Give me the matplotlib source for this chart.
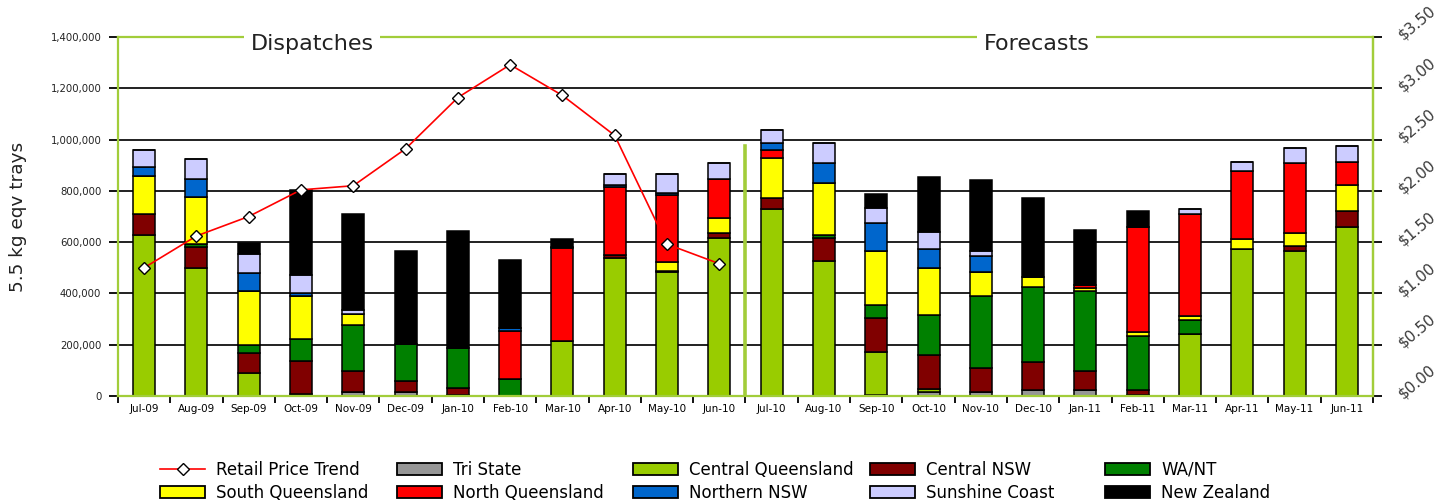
import numpy as np
import matplotlib
matplotlib.use("Agg")
import matplotlib.pyplot as plt
from matplotlib.patches import Patch
from matplotlib.lines import Line2D
from matplotlib.ticker import FuncFormatter

months = ["Jul-09", "Aug-09", "Sep-09", "Oct-09", "Nov-09", "Dec-09",
          "Jan-10", "Feb-10", "Mar-10", "Apr-10", "May-10", "Jun-10",
          "Jul-10", "Aug-10", "Sep-10", "Oct-10", "Nov-10", "Dec-10",
          "Jan-11", "Feb-11", "Mar-11", "Apr-11", "May-11", "Jun-11"]

# thousand trays per region, stacked bottom to top
tri_state = [0, 0, 0, 8, 15, 15, 5, 0, 0, 0, 0, 0,
             0, 0, 3, 14, 17, 23, 23, 3, 0, 0, 0, 0]
central_qld = [628, 498, 91, 0, 0, 0, 0, 0, 216, 539, 482, 615,
               728, 528, 170, 14, 0, 0, 0, 0, 240, 572, 567, 658]
central_nsw = [82, 84, 75, 128, 82, 45, 28, 0, 0, 12, 6, 20,
               43, 87, 132, 132, 93, 108, 76, 20, 0, 0, 18, 64]
wa_nt = [0, 11, 32, 85, 181, 141, 153, 66, 0, 0, 0, 0,
         0, 13, 50, 156, 281, 293, 312, 211, 56, 0, 0, 0]
south_qld = [149, 184, 212, 170, 42, 0, 0, 0, 0, 0, 33, 60,
             156, 201, 212, 182, 94, 41, 11, 14, 16, 40, 50, 101]
north_qld = [0, 0, 0, 0, 0, 0, 0, 187, 360, 265, 264, 153,
             32, 0, 0, 0, 0, 0, 11, 410, 398, 267, 275, 91]
northern_nsw = [35, 69, 68, 12, 0, 0, 0, 11, 4, 5, 6, 0,
                26, 81, 106, 75, 62, 0, 0, 0, 0, 0, 0, 0]
sunshine_coast = [65, 77, 75, 68, 16, 0, 0, 0, 0, 44, 75, 62,
                  52, 75, 61, 68, 19, 0, 0, 0, 19, 32, 56, 62]
new_zealand = [0, 0, 45, 332, 374, 366, 459, 266, 31, 0, 0, 0,
               0, 0, 53, 214, 276, 309, 214, 65, 0, 0, 0, 0]

# retail price, dispatch months only
retail_price = [1.25, 1.56, 1.75, 2.01, 2.05, 2.41, 2.91, 3.23, 2.93, 2.54, 1.48, 1.29]

series = [
    ("Tri State", tri_state, "#969696"),
    ("Central Queensland", central_qld, "#99cc00"),
    ("Central NSW", central_nsw, "#800000"),
    ("WA/NT", wa_nt, "#008000"),
    ("South Queensland", south_qld, "#ffff00"),
    ("North Queensland", north_qld, "#ff0000"),
    ("Northern NSW", northern_nsw, "#0066cc"),
    ("Sunshine Coast", sunshine_coast, "#ccccff"),
    ("New Zealand", new_zealand, "#000000"),
]

frame_green = "#a2cd3a"

fig = plt.figure(figsize=(14.4, 5.03), dpi=100)
ax = fig.add_axes([0.0819, 0.2127, 0.8716, 0.7137])

x = np.arange(len(months))
bottom = np.zeros(len(months))
for name, vals, col in series:
    v = np.array(vals) * 1000.0
    ax.bar(x, v, bottom=bottom, width=0.42, color=col, edgecolor="black",
           linewidth=1.1, zorder=2)
    bottom += v

ax.set_xlim(-0.5, len(months) - 0.5)
ax.set_ylim(0, 1400000)
ax.set_yticks(np.arange(0, 1400001, 200000))
ax.yaxis.set_major_formatter(FuncFormatter(lambda v, p: f"{v:,.0f}"))
ax.grid(axis="y", color="#202020", linewidth=1.4)
ax.set_axisbelow(True)

ax.set_xticks(np.arange(-0.5, len(months), 1.0))
ax.set_xticklabels([])
ax.set_xticks(x, minor=True)
ax.set_xticklabels(months, minor=True, fontsize=7.5)
ax.tick_params(axis="x", which="major", direction="out", length=5, width=1.3, color="black")
ax.tick_params(axis="x", which="minor", length=0, pad=6)
ax.tick_params(axis="y", direction="out", length=6.5, width=1.3, color="black",
               labelsize=7.3, pad=5.5, labelcolor="#222222")
ax.set_ylabel("5.5 kg eqv trays", fontsize=13.3, labelpad=17, color="#222222")

for s in ax.spines.values():
    s.set_color(frame_green)
    s.set_linewidth(1.6)

# divider between dispatches and forecasts
ax.plot([11.5, 11.5], [0, 975000], color=frame_green, linewidth=2.6, zorder=3)

ax2 = ax.twinx()
ax2.set_ylim(0, 3.5)
ax2.set_yticks(np.arange(0, 3.51, 0.5))
ax2.set_yticklabels([f"${v:.2f}" for v in np.arange(0, 3.51, 0.5)])
ax2.tick_params(axis="y", direction="out", length=6.5, width=1.3, color="black",
                labelsize=11, pad=13, labelcolor="#3a3a3a")
for lbl in ax2.get_yticklabels():
    lbl.set_rotation(40)
    lbl.set_rotation_mode("anchor")
    lbl.set_ha("left")
    lbl.set_va("center")
for side in ["top", "left", "bottom"]:
    ax2.spines[side].set_visible(False)
ax2.spines["right"].set_color(frame_green)
ax2.spines["right"].set_linewidth(1.6)

ax2.plot(x[:len(retail_price)], retail_price, color="#ff0000", linewidth=1.2,
         marker="D", markersize=6.5, markerfacecolor="white", markeredgecolor="black",
         markeredgewidth=1.0, zorder=5)

for label, xc in [("Dispatches", 3.21), ("Forecasts", 17.07)]:
    ax2.text(xc, 3.37, label, fontsize=16, ha="center", va="baseline", color="#222222",
             bbox=dict(boxstyle="square,pad=0.3", facecolor="white", edgecolor="none"),
             zorder=6, clip_on=False)

handles = [Line2D([0], [0], color="#ff0000", linewidth=1.2, marker="D", markersize=6.5,
                  markerfacecolor="white", markeredgecolor="black", markeredgewidth=1.0,
                  label="Retail Price Trend")]
for name, vals, col in series:
    handles.append(Patch(facecolor=col, edgecolor="black", linewidth=1.3, label=name))

col_x = [160, 397, 633, 870, 1105]
for c in range(5):
    fig.legend(handles=[handles[c], handles[c + 5]], loc="upper left",
               bbox_to_anchor=(col_x[c] / 1440, 1 - 461 / 503), frameon=False,
               fontsize=12, borderpad=0, borderaxespad=0, handlelength=2.7,
               handleheight=0.72, handletextpad=0.66, labelspacing=0.28)

fig.savefig("out.png", dpi=100)
